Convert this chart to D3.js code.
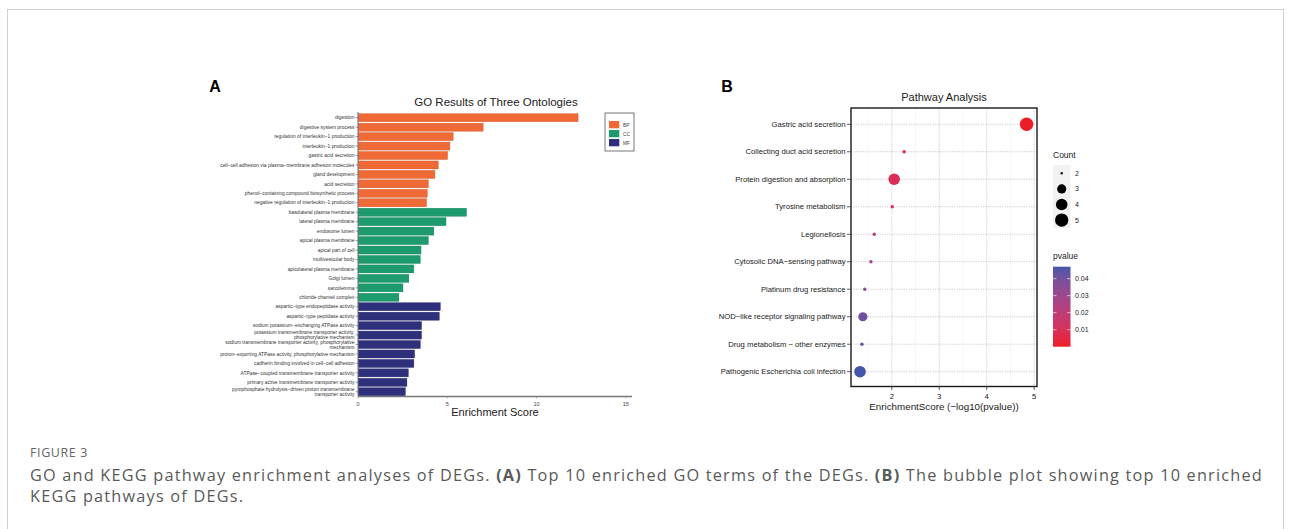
<!DOCTYPE html>
<html><head><meta charset="utf-8">
<script src="https://cdn.jsdelivr.net/npm/d3@7"></script>
<style>
body{margin:0;background:#fff;}
svg{display:block;font-family:"Liberation Sans",Arial,Helvetica,sans-serif;}
.aa{opacity:0.999;}
</style>
</head><body>
<svg id="c" width="1290" height="529"></svg>
<script>
// ---------- Panel A data ----------
const goTerms = [
  "digestion","digestive system process","regulation of interleukin\u22121 production","interleukin\u22121 production",
  "gastric acid secretion","cell\u2212cell adhesion via plasma\u2212membrane adhesion molecules","gland development",
  "acid secretion","phenol\u2212containing compound biosynthetic process","negative regulation of interleukin\u22121 production",
  "basolateral plasma membrane","lateral plasma membrane","endosome lumen","apical plasma membrane","apical part of cell",
  "multivesicular body","apicolateral plasma membrane","Golgi lumen","sarcolemma","chloride channel complex",
  "aspartic\u2212type endopeptidase activity","aspartic\u2212type peptidase activity",
  "sodium potassium\u2212exchanging ATPase activity",
  "potassium transmembrane transporter activity,\nphosphorylative mechanism",
  "sodium transmembrane transporter activity, phosphorylative\nmechanism",
  "proton\u2212exporting ATPase activity, phosphorylative mechanism",
  "cadherin binding involved in cell\u2212cell adhesion","ATPase\u2212coupled transmembrane transporter activity",
  "primary active transmembrane transporter activity",
  "pyrophosphate hydrolysis\u2212driven proton transmembrane\ntransporter activity"
];
const goScores = [12.33,7.01,5.33,5.15,5.02,4.50,4.31,3.94,3.88,3.84,
                  6.08,4.93,4.25,3.94,3.53,3.49,3.13,2.85,2.52,2.29,
                  4.61,4.55,3.56,3.56,3.49,3.17,3.13,2.82,2.74,2.65];
const goOntology = ["BP","BP","BP","BP","BP","BP","BP","BP","BP","BP",
                    "CC","CC","CC","CC","CC","CC","CC","CC","CC","CC",
                    "MF","MF","MF","MF","MF","MF","MF","MF","MF","MF"];
const ontologies = ["BP","CC","MF"];
const ontologyColors = ["#EF6A36","#1E9B6D","#2F307C"];
const goTicks = [0,5,10,15];

// ---------- Panel B data ----------
const keggPathways = ["Gastric acid secretion","Collecting duct acid secretion","Protein digestion and absorption",
  "Tyrosine metabolism","Legionellosis","Cytosolic DNA\u2212sensing pathway","Platinum drug resistance",
  "NOD\u2212like receptor signaling pathway","Drug metabolism \u2212 other enzymes","Pathogenic Escherichia coli infection"];
const keggScores = [4.84,2.26,2.05,2.01,1.63,1.56,1.43,1.39,1.37,1.33];
const keggPvalues = [0.000014,0.0055,0.0089,0.0098,0.023,0.028,0.037,0.041,0.043,0.047];
const keggCounts = [5,2,4,2,2,2,2,3,2,4];
const keggTicks = [2,3,4,5];
const countLegend = [2,3,4,5];
const pvalueTicks = [0.01,0.02,0.03,0.04];

const svg = d3.select("#c").append("g").attr("class","aa");

// page frame
svg.append("rect").attr("x",7.5).attr("y",9.5).attr("width",1276).attr("height",600)
  .attr("fill","none").attr("stroke","#d0d0d0").attr("stroke-width",1);

// panel letters
svg.append("text").attr("x",215).attr("y",92).attr("text-anchor","middle").attr("font-weight","bold").attr("font-size",16).text("A");
svg.append("text").attr("x",727).attr("y",92).attr("text-anchor","middle").attr("font-weight","bold").attr("font-size",16).text("B");

// ================= Panel A =================
const gA = svg.append("g");
const xA = d3.scaleLinear().domain([0,15.35]).range([358,632]);
const yA = d3.scaleBand().domain(d3.range(goTerms.length)).range([113,396.5]).padding(0);
const colA = d3.scaleOrdinal().domain(ontologies).range(ontologyColors);

gA.append("text").attr("x",496).attr("y",106).attr("text-anchor","middle").attr("font-size",11.5).attr("fill","#222")
  .text("GO Results of Three Ontologies");

gA.selectAll("rect.bar").data(goScores).join("rect").attr("class","bar")
  .attr("x",xA(0)+0.5)
  .attr("y",(d,i)=>yA(i)+yA.bandwidth()*0.075)
  .attr("width",d=>xA(d)-xA(0)-0.5)
  .attr("height",yA.bandwidth()*0.85)
  .attr("fill",(d,i)=>colA(goOntology[i]))
  .attr("stroke",(d,i)=>d3.color(colA(goOntology[i])).darker(0.4))
  .attr("stroke-width",0.4);

// y axis (labels)
const yAxisA = gA.append("g");
yAxisA.append("line").attr("x1",358).attr("x2",358).attr("y1",112).attr("y2",396.5).attr("stroke","#444").attr("stroke-width",0.8);
goTerms.forEach((t,i)=>{
  const cy = yA(i)+yA.bandwidth()/2;
  yAxisA.append("line").attr("x1",355.5).attr("x2",358).attr("y1",cy).attr("y2",cy).attr("stroke","#444").attr("stroke-width",0.5);
  const lines = t.split("\n");
  const txt = yAxisA.append("text").attr("text-anchor","end").attr("font-size",4.9).attr("fill","#333");
  lines.forEach((ln,k)=>{
    txt.append("tspan").attr("x",354.5).attr("y",cy+1.7+(k-(lines.length-1)/2)*4.7).text(ln);
  });
});

// x axis
const xAxisA = gA.append("g");
xAxisA.append("line").attr("x1",358).attr("x2",632).attr("y1",396.5).attr("y2",396.5).attr("stroke","#777").attr("stroke-width",1.4);
goTicks.forEach(t=>{
  xAxisA.append("line").attr("x1",xA(t)).attr("x2",xA(t)).attr("y1",397).attr("y2",398.5).attr("stroke","#777").attr("stroke-width",0.5);
  xAxisA.append("text").attr("x",xA(t)).attr("y",405.5).attr("text-anchor","middle").attr("font-size",5.5).attr("fill","#444").text(t);
});
gA.append("text").attr("x",495).attr("y",416).attr("text-anchor","middle").attr("font-size",11).attr("fill","#222").text("Enrichment Score");

// legend A
const legA = gA.append("g");
legA.append("rect").attr("x",605).attr("y",113).attr("width",29).attr("height",38).attr("fill","#fff").attr("stroke","#555").attr("stroke-width",0.8);
ontologies.forEach((o,i)=>{
  legA.append("rect").attr("x",609).attr("y",121+i*9).attr("width",10.3).attr("height",7.3).attr("fill",colA(o));
  legA.append("text").attr("x",623).attr("y",126.5+i*9).attr("font-size",4.8).attr("fill","#444").text(o);
});

// ================= Panel B =================
const gB = svg.append("g");
const xB = d3.scaleLinear().domain([1.14,5.06]).range([851,1037]);
const yB = d3.scalePoint().domain(keggPathways).range([124.3,371.7]);
const pExt = d3.extent(keggPvalues);
const colB = d3.scaleLinear().domain(pExt).range(["#EE1C25","#4356AA"]).interpolate(d3.interpolateRgb.gamma(2.2));
const rB = c => 1.7 + 5.0*Math.sqrt((c-2)/3);

gB.append("text").attr("x",944).attr("y",101).attr("text-anchor","middle").attr("font-size",11).attr("fill","#222").text("Pathway Analysis");

// grid
const grid = gB.append("g");
[1.5,2.5,3.5,4.5].forEach(v=>{
  grid.append("line").attr("x1",xB(v)).attr("x2",xB(v)).attr("y1",108).attr("y2",386.5).attr("stroke","#efefef").attr("stroke-width",0.5);
});
keggTicks.forEach(t=>{
  grid.append("line").attr("x1",xB(t)).attr("x2",xB(t)).attr("y1",108).attr("y2",386.5)
    .attr("stroke","#aaa").attr("stroke-width",0.6).attr("stroke-dasharray","1.2,1.2");
});
keggPathways.forEach(p=>{
  grid.append("line").attr("x1",851).attr("x2",1037).attr("y1",yB(p)).attr("y2",yB(p))
    .attr("stroke","#aaa").attr("stroke-width",0.6).attr("stroke-dasharray","1.2,1.2");
});

// points
gB.selectAll("circle.pt").data(keggPathways).join("circle").attr("class","pt")
  .attr("cx",(d,i)=>xB(keggScores[i]))
  .attr("cy",d=>yB(d))
  .attr("r",(d,i)=>rB(keggCounts[i]))
  .attr("fill",(d,i)=>colB(keggPvalues[i]));

// panel border
gB.append("rect").attr("x",851).attr("y",108).attr("width",186).attr("height",278.5)
  .attr("fill","none").attr("stroke","#1a1a1a").attr("stroke-width",1.4);

// y axis B
keggPathways.forEach(p=>{
  gB.append("line").attr("x1",847).attr("x2",851).attr("y1",yB(p)).attr("y2",yB(p)).attr("stroke","#333").attr("stroke-width",0.8);
  gB.append("text").attr("x",845.5).attr("y",yB(p)+2.7).attr("text-anchor","end").attr("font-size",7.7).attr("fill","#222").text(p);
});
// x axis B
keggTicks.forEach(t=>{
  gB.append("line").attr("x1",xB(t)).attr("x2",xB(t)).attr("y1",386.5).attr("y2",390).attr("stroke","#333").attr("stroke-width",0.8);
  gB.append("text").attr("x",xB(t)).attr("y",398.5).attr("text-anchor","middle").attr("font-size",7.7).attr("fill","#222").text(t);
});
gB.append("text").attr("x",944).attr("y",410).attr("text-anchor","middle").attr("font-size",9.8).attr("fill","#222")
  .text("EnrichmentScore (\u2212log10(pvalue))");

// Count legend
const legC = gB.append("g");
legC.append("text").attr("x",1053).attr("y",158).attr("font-size",8.5).attr("fill","#222").text("Count");
legC.append("rect").attr("x",1053).attr("y",165).attr("width",17.5).attr("height",63).attr("fill","#f2f2f2");
countLegend.forEach((c,i)=>{
  const cy = 173.3 + i*15.6;
  legC.append("circle").attr("cx",1061.7).attr("cy",cy).attr("r",c===2?1.2:rB(c)).attr("fill","#000");
  legC.append("text").attr("x",1075).attr("y",cy+2.5).attr("font-size",7).attr("fill","#222").text(c);
});

// pvalue legend
const legP = gB.append("g");
legP.append("text").attr("x",1053).attr("y",259).attr("font-size",8.5).attr("fill","#222").text("pvalue");
const barTop = 266.7, barBot = 346.7;
const pY = d3.scaleLinear().domain(pExt).range([barBot,barTop]);
const defs = d3.select("#c").append("defs");
const grad = defs.append("linearGradient").attr("id","pg").attr("x1",0).attr("y1",1).attr("x2",0).attr("y2",0);
d3.range(0,1.0001,0.05).forEach(f=>{
  grad.append("stop").attr("offset",f).attr("stop-color",colB(pExt[0]+f*(pExt[1]-pExt[0])));
});
legP.append("rect").attr("x",1053).attr("y",barTop).attr("width",17.5).attr("height",barBot-barTop).attr("fill","url(#pg)");
pvalueTicks.forEach(t=>{
  legP.append("line").attr("x1",1053).attr("x2",1056.5).attr("y1",pY(t)).attr("y2",pY(t)).attr("stroke","#fff").attr("stroke-width",0.6);
  legP.append("line").attr("x1",1067).attr("x2",1070.5).attr("y1",pY(t)).attr("y2",pY(t)).attr("stroke","#fff").attr("stroke-width",0.6);
  legP.append("text").attr("x",1075).attr("y",pY(t)+2.5).attr("font-size",7).attr("fill","#222").text(t.toFixed(2));
});

// ================= Caption =================
const capFont = "'Open Sans','Noto Sans',sans-serif";
svg.append("text").attr("x",30).attr("y",456.5).attr("font-family",capFont).attr("font-size",12.5)
  .attr("fill","#666").attr("letter-spacing",0.6).text("FIGURE 3");
const cap = svg.append("text").attr("x",30).attr("y",481).attr("font-family",capFont).attr("font-size",16.3).attr("fill","#5a5a5a");
const parts = [["GO and KEGG pathway enrichment analyses of DEGs. ",false],["(A)",true],
  [" Top 10 enriched GO terms of the DEGs. ",false],["(B)",true],[" The bubble plot showing top 10 enriched",false]];
parts.forEach(([t,b])=>cap.append("tspan").attr("font-weight",b?"bold":null).text(t));
const full = parts.map(p=>p[0]).join("");
const w0 = cap.node().getBBox().width;
const ls = (1233 - w0)/full.length;
cap.attr("letter-spacing",ls);
svg.append("text").attr("x",30).attr("y",502).attr("font-family",capFont).attr("font-size",16.3).attr("fill","#5a5a5a")
  .attr("letter-spacing",ls).text("KEGG pathways of DEGs.");
</script>
</body></html>
